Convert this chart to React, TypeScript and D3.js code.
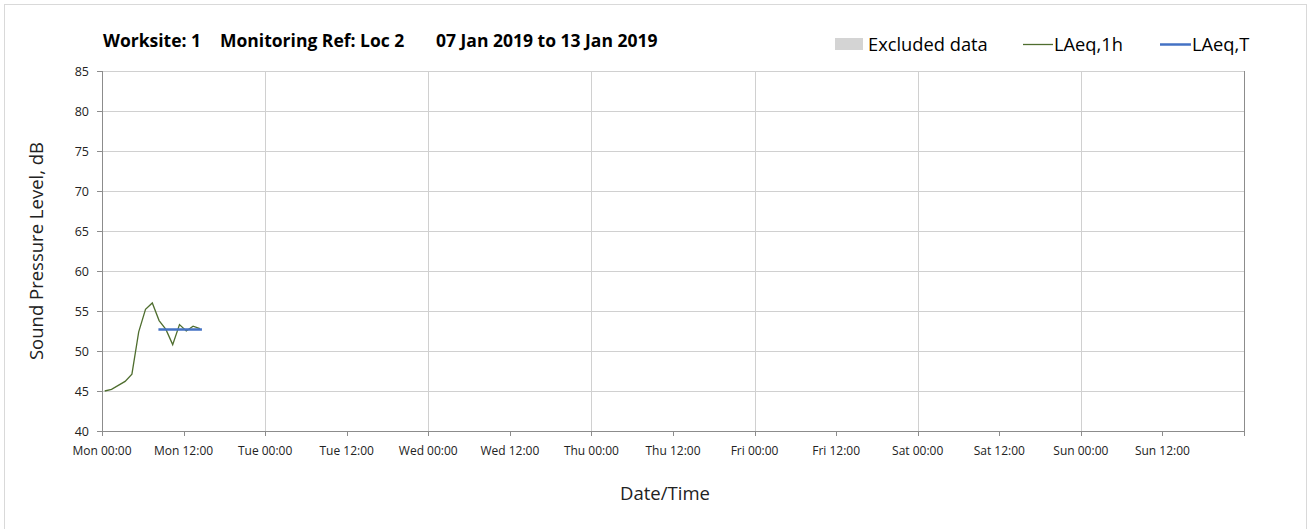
import * as React from "react";
import * as d3 from "d3";

// hourly LAeq values, Monday from ~00:25
const hourOffsets = [0.4, 1.4, 2.4, 3.4, 4.4, 5.4, 6.4, 7.4, 8.4, 9.4, 10.4, 11.4, 12.4, 13.4, 14.4];
const laeq1h = [45.0, 45.2, 45.7, 46.2, 47.1, 52.4, 55.2, 56.0, 53.8, 52.7, 50.8, 53.3, 52.5, 53.1, 52.8];

// period LAeq,T
const laeqTHours = [8.3, 14.7];
const laeqTValues = [52.7, 52.7];

const dayNames = ["Mon", "Tue", "Wed", "Thu", "Fri", "Sat", "Sun"];
const yTicks = [40, 45, 50, 55, 60, 65, 70, 75, 80, 85];

const titleParts = ["Worksite: 1", "Monitoring Ref: Loc 2", "07 Jan 2019 to 13 Jan 2019"];
const legendLabels = ["Excluded data", "LAeq,1h", "LAeq,T"];

const font = "'Open Sans', sans-serif";

export default function App() {
    const width = 1314;
    const height = 529;
    const m = { left: 102, right: 1244, top: 71, bottom: 431 };

    const x = d3.scaleLinear().domain([0, 7 * 24]).range([m.left, m.right]);
    const y = d3.scaleLinear().domain([40, 85]).range([m.bottom, m.top]);

    const tickHours = d3.range(0, 7 * 24, 12);
    const gridHours = d3.range(24, 7 * 24 + 1, 24);

    const line = d3.line<[number, number]>()
        .x(d => x(d[0]))
        .y(d => y(d[1]));

    const greenPts = hourOffsets.map<[number, number]>((h, i) => [h, laeq1h[i]]);
    const bluePts = laeqTHours.map<[number, number]>((h, i) => [h, laeqTValues[i]]);

    const hourLabel = (h: number) => `${dayNames[Math.floor(h / 24)]} ${h % 24 === 0 ? "00:00" : "12:00"}`;

    return <svg width={width} height={height} style={{ position: "absolute", left: 0, top: 0, fontFamily: font }}>
        <rect x={4.5} y={4.5} width={1302} height={540} fill="white" stroke="#d9d9d9" />

        {/* title */}
        <text x={103} y={47} fontSize={17.5} fontWeight="bold" fill="#000">{titleParts[0]}</text>
        <text x={220} y={47} fontSize={17.5} fontWeight="bold" fill="#000">{titleParts[1]}</text>
        <text x={436} y={47} fontSize={17.5} fontWeight="bold" fill="#000">{titleParts[2]}</text>

        {/* legend */}
        <rect x={835} y={38} width={28} height={12} fill="#d4d4d4" />
        <text x={868} y={51} fontSize={18.3} fill="#000">{legendLabels[0]}</text>
        <line x1={1023} x2={1053} y1={44.5} y2={44.5} stroke="#4f6e2f" strokeWidth={1.3} />
        <text x={1054} y={51} fontSize={18.3} fill="#000">{legendLabels[1]}</text>
        <line x1={1160} x2={1191} y1={44.5} y2={44.5} stroke="#4472c4" strokeWidth={2.5} />
        <text x={1192} y={51} fontSize={18.3} fill="#000">{legendLabels[2]}</text>

        {/* horizontal grid */}
        {yTicks.filter(t => t > 40).map(t =>
            <line key={t} x1={m.left} x2={m.right} y1={Math.round(y(t)) + 0.5} y2={Math.round(y(t)) + 0.5} stroke="#d0d0d0" />
        )}
        {/* vertical grid */}
        {gridHours.map(h =>
            <line key={h} x1={Math.round(x(h)) + 0.5} x2={Math.round(x(h)) + 0.5} y1={m.top} y2={m.bottom} stroke={h === 7 * 24 ? "#8c8c8c" : "#d0d0d0"} />
        )}

        {/* axes */}
        <line x1={m.left + 0.5} x2={m.left + 0.5} y1={m.top} y2={m.bottom + 0.5} stroke="#8c8c8c" />
        <line x1={m.left - 5} x2={m.right} y1={m.bottom + 0.5} y2={m.bottom + 0.5} stroke="#8c8c8c" />
        {yTicks.map(t =>
            <g key={t}>
                <line x1={m.left - 5} x2={m.left} y1={Math.round(y(t)) + 0.5} y2={Math.round(y(t)) + 0.5} stroke="#8c8c8c" />
                <text x={89} y={y(t) + 4.5} fontSize={12.5} textAnchor="end" fill="#222">{t}</text>
            </g>
        )}
        {tickHours.concat([7 * 24]).map(h =>
            <line key={h} x1={Math.round(x(h)) + 0.5} x2={Math.round(x(h)) + 0.5} y1={m.bottom} y2={m.bottom + 5} stroke="#8c8c8c" />
        )}
        {tickHours.map(h =>
            <text key={h} x={x(h)} y={455} fontSize={12} textAnchor="middle" fill="#222">{hourLabel(h)}</text>
        )}

        {/* axis titles */}
        <text x={665} y={500} fontSize={18.5} textAnchor="middle" fill="#222">Date/Time</text>
        <text transform={`translate(43, ${251}) rotate(-90)`} fontSize={18.5} textAnchor="middle" fill="#222">Sound Pressure Level, dB</text>

        {/* series */}
        <path d={line(greenPts) || ""} fill="none" stroke="#4f6e2f" strokeWidth={1.3} />
        <path d={line(bluePts) || ""} fill="none" stroke="#4472c4" strokeWidth={2.5} />
    </svg>;
}
